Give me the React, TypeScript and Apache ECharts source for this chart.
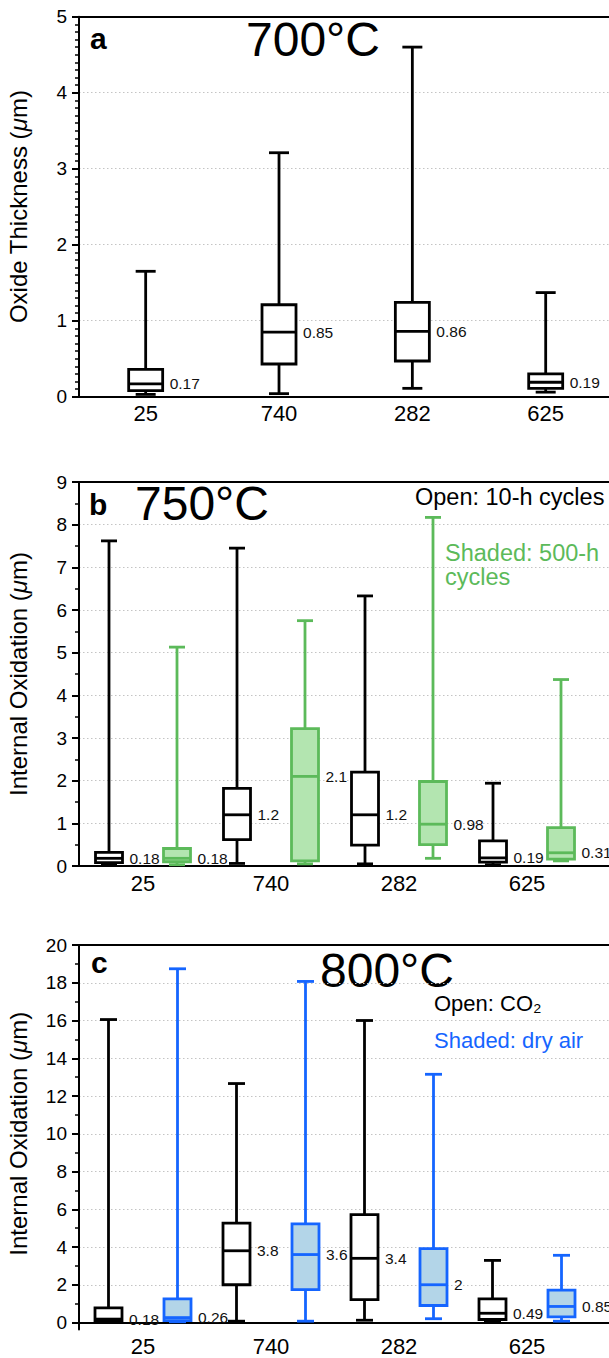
import React, { useEffect, useRef } from 'react';
import * as echarts from 'echarts';

// ---------- data ----------
const categories = ['25', '740', '282', '625'];

// Panel a – 700°C, oxide thickness (µm)
const aMin = [0.03, 0.04, 0.11, 0.06];
const aQ1 = [0.08, 0.43, 0.47, 0.11];
const aMedian = [0.17, 0.85, 0.86, 0.19];
const aQ3 = [0.36, 1.21, 1.24, 0.3];
const aMax = [1.65, 3.21, 4.6, 1.37];

// Panel b – 750°C, internal oxidation, 10-h cycles (open)
const bOpenMin = [0.03, 0.06, 0.05, 0.03];
const bOpenQ1 = [0.08, 0.62, 0.49, 0.09];
const bOpenMedian = [0.18, 1.2, 1.2, 0.19];
const bOpenQ3 = [0.32, 1.82, 2.2, 0.59];
const bOpenMax = [7.62, 7.45, 6.33, 1.94];

// Panel b – 750°C, 500-h cycles (shaded)
const bShadedMin = [0.03, 0.05, 0.18, 0.12];
const bShadedQ1 = [0.1, 0.12, 0.5, 0.16];
const bShadedMedian = [0.18, 2.1, 0.98, 0.31];
const bShadedQ3 = [0.41, 3.22, 1.98, 0.9];
const bShadedMax = [5.13, 5.75, 8.17, 4.37];

// Panel c – 800°C, CO2 (open)
const cOpenMin = [0.04, 0.07, 0.12, 0.05];
const cOpenQ1 = [0.07, 2.0, 1.21, 0.16];
const cOpenMedian = [0.18, 3.8, 3.4, 0.49];
const cOpenQ3 = [0.77, 5.27, 5.72, 1.25];
const cOpenMax = [16.05, 12.66, 16.0, 3.29];

// Panel c – 800°C, dry air (shaded)
const cShadedMin = [0.04, 0.07, 0.2, 0.07];
const cShadedQ1 = [0.1, 1.74, 0.9, 0.3];
const cShadedMedian = [0.26, 3.6, 2, 0.85];
const cShadedQ3 = [1.25, 5.23, 3.91, 1.71];
const cShadedMax = [18.74, 18.07, 13.15, 3.56];

// ---------- styling ----------
const FONT = '"Liberation Sans", Arial, Helvetica, sans-serif';
const GREEN = '#5cba5a';
const GREEN_FILL = '#b3e5b0';
const BLUE = '#1565ff';
const BLUE_FILL = '#b3d5e8';

function boxData(min: number[], q1: number[], med: number[], q3: number[], max: number[]) {
  return categories.map((_, i) => [i, min[i], q1[i], med[i], q3[i], max[i]]);
}

interface BoxCfg {
  offset: number;
  boxWidth: number;
  capWidth: number;
  stroke: string;
  fill: string;
  lineWidth: number;
  labelGap: number;
}

function boxSeries(name: string, data: number[][], xi: number, yi: number, cfg: BoxCfg) {
  return {
    type: 'custom',
    name,
    xAxisIndex: xi,
    yAxisIndex: yi,
    data,
    clip: false,
    z: 5,
    renderItem: (_params: any, api: any) => {
      const ci = api.value(0);
      const vMin = api.value(1);
      const q1 = api.value(2);
      const med = api.value(3);
      const q3 = api.value(4);
      const vMax = api.value(5);
      const cx = api.coord([ci, 0])[0] + cfg.offset;
      const y = (v: number) => api.coord([ci, v])[1];
      const yMin = y(vMin), yQ1 = y(q1), yMed = y(med), yQ3 = y(q3), yMax = y(vMax);
      const hb = cfg.boxWidth / 2;
      const hc = cfg.capWidth / 2;
      const ls = { stroke: cfg.stroke, lineWidth: cfg.lineWidth, fill: null };
      return {
        type: 'group',
        children: [
          { type: 'line', shape: { x1: cx, y1: yQ1, x2: cx, y2: yMin }, style: ls },
          { type: 'line', shape: { x1: cx - hc, y1: yMin, x2: cx + hc, y2: yMin }, style: ls },
          { type: 'line', shape: { x1: cx, y1: yQ3, x2: cx, y2: yMax }, style: ls },
          { type: 'line', shape: { x1: cx - hc, y1: yMax, x2: cx + hc, y2: yMax }, style: ls },
          {
            type: 'rect',
            shape: { x: cx - hb, y: yQ3, width: cfg.boxWidth, height: yQ1 - yQ3 },
            style: { fill: cfg.fill, stroke: cfg.stroke, lineWidth: cfg.lineWidth },
          },
          { type: 'line', shape: { x1: cx - hb, y1: yMed, x2: cx + hb, y2: yMed }, style: ls },
          {
            type: 'text',
            x: cx + hb + cfg.labelGap,
            y: yMed,
            style: {
              text: String(med),
              fontSize: 15.5,
              fontFamily: FONT,
              fill: '#111',
              align: 'left',
              verticalAlign: 'middle',
            },
          },
        ],
      };
    },
  };
}

function bottomX(gridIndex: number, offset = 0) {
  return {
    type: 'category',
    gridIndex,
    data: categories,
    max: 4,
    position: 'bottom',
    offset,
    axisLine: { show: true, lineStyle: { color: '#000', width: 2 } },
    axisTick: { show: false },
    axisLabel: { interval: 0, fontSize: 22, color: '#000', fontFamily: FONT, margin: 6 },
    splitLine: { show: false },
  };
}

function topX(gridIndex: number) {
  return {
    type: 'category',
    gridIndex,
    data: categories,
    max: 4,
    position: 'top',
    axisLine: { show: true, lineStyle: { color: '#000', width: 2 } },
    axisTick: { show: false },
    axisLabel: { show: false },
    splitLine: { show: false },
  };
}

function valueY(gridIndex: number, max: number, interval: number, minorSplit: number, name: string, showLine = true) {
  return {
    type: 'value',
    gridIndex,
    min: 0,
    max,
    interval,
    name,
    nameLocation: 'middle',
    nameGap: 49,
    nameTextStyle: {
      fontSize: 24,
      fontFamily: FONT,
      color: '#000',
      rich: { i: { fontSize: 24, fontFamily: FONT, fontStyle: 'italic', color: '#000' } },
    },
    axisLine: { show: showLine, lineStyle: { color: '#000', width: 2 } },
    axisTick: { show: true, length: 7, lineStyle: { color: '#000', width: 2 } },
    minorTick: { show: true, splitNumber: minorSplit, length: 4, lineStyle: { color: '#000', width: 1.5 } },
    axisLabel: { fontSize: 19, color: '#000', fontFamily: FONT, margin: 12 },
    splitLine: { show: true, lineStyle: { color: '#c4c4c4', width: 1, type: [1.5, 2.5] } },
  };
}

export default function App() {
  const ref = useRef<HTMLDivElement>(null);

  useEffect(() => {
    if (!ref.current) return;
    const chart = echarts.init(ref.current, undefined, { renderer: 'svg' });

    const black = { stroke: '#000', fill: '#fff', lineWidth: 2.8 };
    const gridBase = { outerBoundsMode: 'none', containLabel: false };

    const option: any = {
      animation: false,
      backgroundColor: '#fff',
      grid: [
        { ...gridBase, left: 79, top: 16.7, width: 666.7, height: 380 },
        { ...gridBase, left: 79, top: 482, width: 640, height: 384 },
        { ...gridBase, left: 79, top: 945, width: 640, height: 377.5 },
        { ...gridBase, left: 79, top: 945, width: 640, height: 384.5 },
      ],
      xAxis: [
        bottomX(0),
        topX(0),
        bottomX(1),
        topX(1),
        bottomX(2, 7),
        topX(2),
        { type: 'value', gridIndex: 3, show: false },
      ],
      yAxis: [
        valueY(0, 5, 1, 10, 'Oxide Thickness ({i|μ}m)'),
        valueY(1, 9, 1, 2, 'Internal Oxidation ({i|μ}m)'),
        valueY(2, 20, 2, 2, 'Internal Oxidation ({i|μ}m)', false),
        {
          type: 'value',
          gridIndex: 3,
          min: 0,
          max: 1,
          axisLine: { show: true, lineStyle: { color: '#000', width: 2 } },
          axisTick: { show: false },
          axisLabel: { show: false },
          splitLine: { show: false },
        },
      ],
      series: [
        boxSeries('700°C', boxData(aMin, aQ1, aMedian, aQ3, aMax), 0, 0, {
          ...black, offset: 0, boxWidth: 34, capWidth: 20, labelGap: 7,
        }),
        boxSeries('10-h cycles', boxData(bOpenMin, bOpenQ1, bOpenMedian, bOpenQ3, bOpenMax), 2, 1, {
          ...black, offset: -34, boxWidth: 27, capWidth: 16, labelGap: 7,
        }),
        boxSeries('500-h cycles', boxData(bShadedMin, bShadedQ1, bShadedMedian, bShadedQ3, bShadedMax), 2, 1, {
          stroke: GREEN, fill: GREEN_FILL, lineWidth: 2.8, offset: 34, boxWidth: 27, capWidth: 16, labelGap: 7,
        }),
        boxSeries('CO2', boxData(cOpenMin, cOpenQ1, cOpenMedian, cOpenQ3, cOpenMax), 4, 2, {
          ...black, offset: -34.5, boxWidth: 27, capWidth: 17, labelGap: 7,
        }),
        boxSeries('dry air', boxData(cShadedMin, cShadedQ1, cShadedMedian, cShadedQ3, cShadedMax), 4, 2, {
          stroke: BLUE, fill: BLUE_FILL, lineWidth: 2.8, offset: 34.5, boxWidth: 27, capWidth: 17, labelGap: 7,
        }),
      ],
      graphic: [
        { type: 'text', x: 90, y: 38, style: { text: 'a', fontSize: 30, fontWeight: 'bold', fontFamily: FONT, fill: '#000', verticalAlign: 'middle' } },
        { type: 'text', x: 246, y: 39, style: { text: '700°C', fontSize: 48, fontFamily: FONT, fill: '#000', verticalAlign: 'middle' } },
        { type: 'text', x: 89, y: 504, style: { text: 'b', fontSize: 30, fontWeight: 'bold', fontFamily: FONT, fill: '#000', verticalAlign: 'middle' } },
        { type: 'text', x: 135, y: 503, style: { text: '750°C', fontSize: 48, fontFamily: FONT, fill: '#000', verticalAlign: 'middle' } },
        { type: 'text', x: 415, y: 497, style: { text: 'Open: 10-h cycles', fontSize: 23.5, fontFamily: FONT, fill: '#000', verticalAlign: 'middle' } },
        { type: 'text', x: 445, y: 553, style: { text: 'Shaded: 500-h', fontSize: 23.5, fontFamily: FONT, fill: GREEN, verticalAlign: 'middle' } },
        { type: 'text', x: 445, y: 577, style: { text: 'cycles', fontSize: 23.5, fontFamily: FONT, fill: GREEN, verticalAlign: 'middle' } },
        { type: 'text', x: 91, y: 962, style: { text: 'c', fontSize: 30, fontWeight: 'bold', fontFamily: FONT, fill: '#000', verticalAlign: 'middle' } },
        { type: 'text', x: 320, y: 970, style: { text: '800°C', fontSize: 48, fontFamily: FONT, fill: '#000', verticalAlign: 'middle' } },
        { type: 'text', x: 434, y: 1003, style: { text: 'Open: CO₂', fontSize: 22, fontFamily: FONT, fill: '#000', verticalAlign: 'middle' } },
        { type: 'text', x: 434, y: 1040, style: { text: 'Shaded: dry air', fontSize: 22, fontFamily: FONT, fill: BLUE, verticalAlign: 'middle' } },
      ],
    };

    chart.setOption(option);
    return () => {
      chart.dispose();
    };
  }, []);

  return (
    <div
      ref={ref}
      style={{ position: 'absolute', left: 0, top: 0, width: 609, height: 1358, background: '#fff' }}
    />
  );
}
